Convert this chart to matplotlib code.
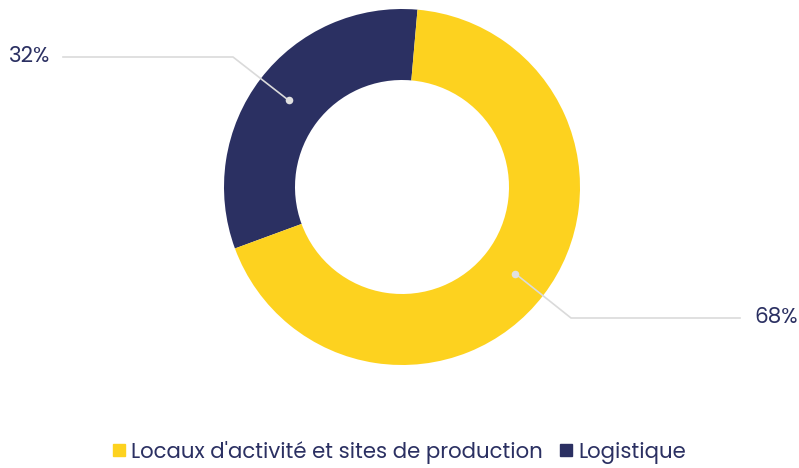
import matplotlib.pyplot as plt
from matplotlib.patches import Patch
import numpy as np

# data
labels = ["Logistique", "Locaux d'activité et sites de production"]
values = [32, 68]
colors = ['#2b3062', '#fdd21f']
pct_text = ['32%', '68%']

text_col = '#2b3062'
line_col = '#dadada'

plt.rcParams['font.family'] = ['Poppins', 'Lato', 'DejaVu Sans']

W, H = 799, 468
fig = plt.figure(figsize=(W / 100, H / 100), dpi=100)
ax = fig.add_axes([0, 0, 1, 1])

cx, cy = 402, H - 187
R = 178
r_in = 107

wedges, _ = ax.pie(values, colors=colors, startangle=85, counterclock=True,
                   radius=R, center=(cx, cy),
                   wedgeprops=dict(width=R - r_in, linewidth=0))
ax.set_xlim(0, W)
ax.set_ylim(0, H)
ax.set_aspect('equal')
ax.axis('off')

# leader lines (elbow then horizontal)
mid_r = (R + r_in) / 2
elbows = [(233, H - 57, 63, 9), (571, H - 318, 740, 754)]
for w, lab, (ex, ey, hx, tx) in zip(wedges, pct_text, elbows):
    ang = np.deg2rad((w.theta1 + w.theta2) / 2)
    px = cx + mid_r * np.cos(ang)
    py = cy + mid_r * np.sin(ang)
    ax.plot([px, ex, hx], [py, ey, ey], color=line_col, lw=1.2, zorder=3)
    ax.scatter([px], [py], s=30, color='#e0e0e0', zorder=4, linewidths=0)
    ax.text(tx, ey, lab, color=text_col, fontsize=15.5, va='center', ha='left')

handles = [Patch(color=colors[1], label=labels[1]),
           Patch(color=colors[0], label=labels[0])]
fig.legend(handles=handles, loc='center', bbox_to_anchor=(0.5, 1 - 452 / H),
           ncol=2, frameon=False, fontsize=15.3, labelcolor=text_col,
           handlelength=0.55, handleheight=0.55, handletextpad=0.3,
           columnspacing=0.8)

fig.savefig('out.png', dpi=100)
